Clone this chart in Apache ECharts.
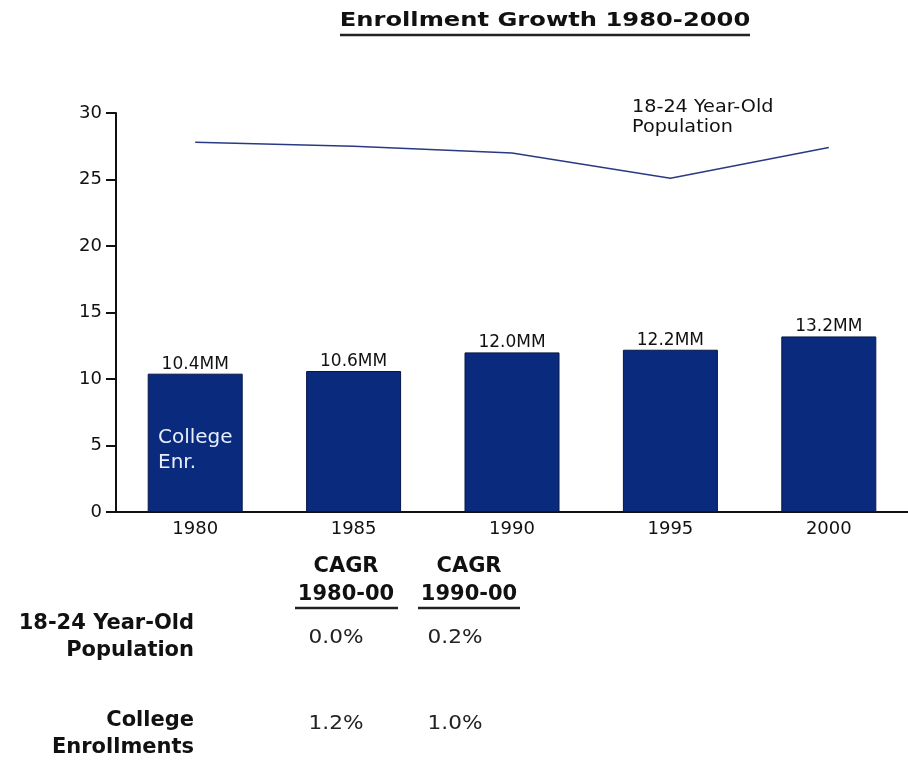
<!DOCTYPE html>
<html>
<head>
<meta charset="utf-8">
<script src="https://cdn.jsdelivr.net/npm/echarts@6/dist/echarts.min.js"></script>
<style>
  html, body { margin: 0; padding: 0; background: #fff; }
  #chart { width: 908px; height: 761px; }
</style>
</head>
<body>
<div id="chart"></div>
<script>
// Chart data
const years = ['1980', '1985', '1990', '1995', '2000'];
const collegeEnrollment = [10.4, 10.6, 12.0, 12.2, 13.2];   // millions
const population18to24 = [27.8, 27.5, 27.0, 25.1, 27.4];    // millions
const yTicks = { min: 0, max: 30, step: 5 };

// CAGR table
const cagrHeaders = [['CAGR', '1980-00'], ['CAGR', '1990-00']];
const cagrRowLabels = [['18-24 Year-Old', 'Population'], ['College', 'Enrollments']];
const cagrValues = [['0.0%', '0.2%'], ['1.2%', '1.0%']];

const FONT = 'DejaVu Sans, Verdana, sans-serif';
const NAVY = '#0a2a7e';

const chart = echarts.init(document.getElementById('chart'), null, { renderer: 'canvas' });

const graphics = [];
// title with underline
graphics.push({
  type: 'text', x: 545, y: 11, scaleX: 1.21, z: 100,
  style: { text: 'Enrollment Growth 1980-2000', font: 'bold 20px ' + FONT, fill: '#111', align: 'center' }
});
graphics.push({
  type: 'line', shape: { x1: 340, y1: 35, x2: 750, y2: 35 }, z: 100,
  style: { stroke: '#222', lineWidth: 2.5 }
});
// series annotations
graphics.push({
  type: 'text', x: 632, y: 98, scaleX: 1.13, z: 100,
  style: { text: '18-24 Year-Old\nPopulation', font: '17px ' + FONT, fill: '#111', lineHeight: 20 }
});
graphics.push({
  type: 'text', x: 158, y: 425, z: 100,
  style: { text: 'College\nEnr.', font: '20px ' + FONT, fill: '#e8eefc', lineHeight: 25 }
});

// CAGR table headers
const headerCenters = [346, 469];
const underlineSpans = [[295, 398], [418, 520]];
cagrHeaders.forEach((h, i) => {
  graphics.push({
    type: 'text', x: headerCenters[i], y: 556, z: 100,
    style: { text: h[0], font: 'bold 21px ' + FONT, fill: '#111', align: 'center' }
  });
  graphics.push({
    type: 'text', x: headerCenters[i], y: 584, z: 100,
    style: { text: h[1], font: 'bold 21px ' + FONT, fill: '#111', align: 'center' }
  });
  graphics.push({
    type: 'line', shape: { x1: underlineSpans[i][0], y1: 608, x2: underlineSpans[i][1], y2: 608 }, z: 100,
    style: { stroke: '#222', lineWidth: 2.5 }
  });
});
// CAGR table rows
const labelTops = [610, 707];
const valueTops = [628, 714];
const valueCenters = [336, 455];
cagrRowLabels.forEach((lbl, i) => {
  graphics.push({
    type: 'text', x: 194, y: labelTops[i], z: 100,
    style: { text: lbl.join('\n'), font: 'bold 21px ' + FONT, fill: '#111', align: 'right', lineHeight: 27 }
  });
  cagrValues[i].forEach((v, j) => {
    graphics.push({
      type: 'text', x: valueCenters[j], y: valueTops[i], scaleX: 1.08, z: 100,
      style: { text: v, font: '20px ' + FONT, fill: '#222', align: 'center' }
    });
  });
});

chart.setOption({
  backgroundColor: '#fff',
  animation: false,
  grid: { left: 116, top: 113, width: 795, height: 399 },
  xAxis: {
    type: 'category',
    data: years,
    axisLine: { lineStyle: { color: '#111', width: 2 } },
    axisTick: { show: false },
    axisLabel: { color: '#111', fontFamily: FONT, fontSize: 18, margin: 8 },
    splitLine: { show: false }
  },
  yAxis: {
    type: 'value',
    min: yTicks.min, max: yTicks.max, interval: yTicks.step,
    axisLine: { show: true, lineStyle: { color: '#111', width: 2 } },
    axisTick: { show: true, length: 10, lineStyle: { color: '#111', width: 2 } },
    axisLabel: { color: '#111', fontFamily: FONT, fontSize: 18, margin: 14 },
    splitLine: { show: false }
  },
  series: [
    {
      name: 'College Enrollment',
      type: 'bar',
      data: collegeEnrollment,
      barWidth: 95,
      itemStyle: { color: NAVY, borderColor: '#06164a', borderWidth: 1 },
      label: {
        show: true, position: 'top', distance: 1,
        color: '#111', fontFamily: FONT, fontSize: 17,
        formatter: p => p.value.toFixed(1) + 'MM'
      }
    },
    {
      name: '18-24 Year-Old Population',
      type: 'line',
      data: population18to24,
      symbol: 'none',
      lineStyle: { color: '#2a3a82', width: 1.5 },
      z: 3
    }
  ],
  graphic: graphics
});
</script>
</body>
</html>
